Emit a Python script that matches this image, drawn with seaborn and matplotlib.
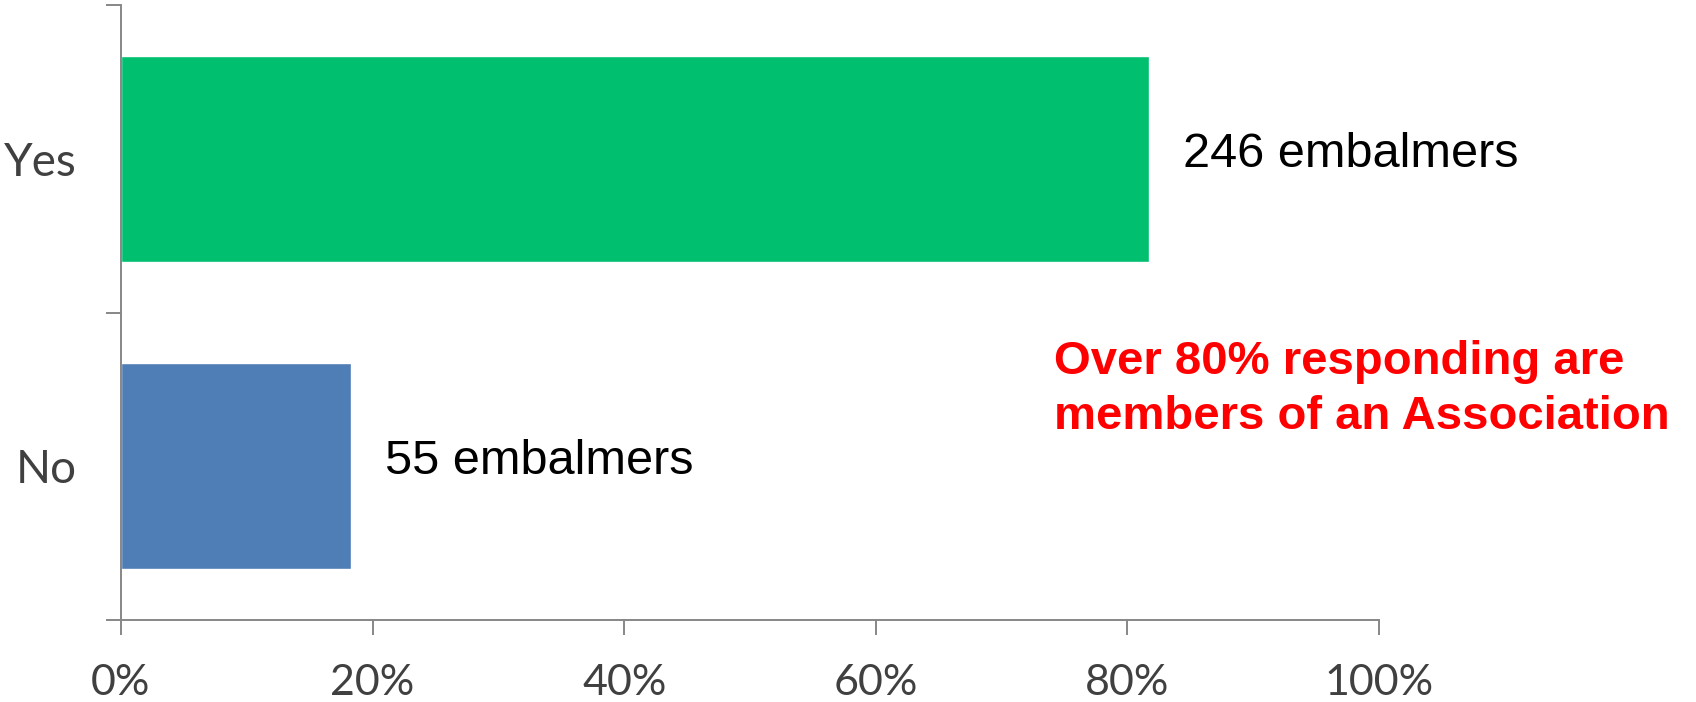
import matplotlib
matplotlib.use('Agg')
import matplotlib.pyplot as plt
from matplotlib.ticker import PercentFormatter, FixedLocator
import seaborn as sns
import pandas as pd

# data
answers = ['Yes', 'No']
embalmers = [246, 55]
bar_colors = ['#00BF6F', '#4F7DB5']
note = 'Over 80% responding are\nmembers of an Association'

total = sum(embalmers)
df = pd.DataFrame({'answer': answers,
                   'share': [n / total for n in embalmers]})

sns.set_style('white')
plt.rcParams['font.family'] = ['Liberation Sans', 'DejaVu Sans']

fig = plt.figure(figsize=(16.96, 7.02), dpi=100)
ax = fig.add_axes([0.0713, 0.1168, 0.7418, 0.8754])

sns.barplot(data=df, x='share', y='answer', hue='answer', palette=bar_colors,
            order=answers, width=0.67, legend=False, saturation=1, ax=ax)

ax.set_xlim(0, 1)
ax.set_ylim(1.5, -0.5)
ax.xaxis.set_major_formatter(PercentFormatter(1.0, decimals=0))
ax.set_xticks([0, 0.2, 0.4, 0.6, 0.8, 1.0])
ax.set_xlabel('')
ax.set_ylabel('')

# y ticks at band edges, labels centered on bars
ax.yaxis.set_minor_locator(FixedLocator([-0.5, 0.5, 1.5]))
ax.tick_params(axis='y', which='major', length=0, pad=32)
ax.tick_params(axis='y', which='minor', length=11, width=1.4, color='#878787',
               direction='out', left=True)
ax.tick_params(axis='x', length=11, width=1.4, color='#878787',
               direction='out', bottom=True, pad=21)
for lab in ax.get_xticklabels():
    lab.set_family(['Lato', 'DejaVu Sans'])
    lab.set_fontsize(31)
    lab.set_color('#404040')
for lab in ax.get_yticklabels():
    lab.set_family(['Lato', 'DejaVu Sans'])
    lab.set_fontsize(33)
    lab.set_color('#404040')
    lab.set_verticalalignment('center_baseline')

for side in ['top', 'right']:
    ax.spines[side].set_visible(False)
for side in ['left', 'bottom']:
    ax.spines[side].set_color('#878787')
    ax.spines[side].set_linewidth(1.4)

for i, n in enumerate(embalmers):
    ax.text(n / total + 0.027, i - 0.015, f'{n} embalmers', va='center',
            ha='left', fontsize=35, color='black')

ax.text(0.742, 0.375, note, transform=ax.transAxes, va='center', ha='left',
        fontsize=34, fontweight='bold', color='#FF0000', linespacing=1.3,
        clip_on=False)

fig.savefig('out.png', dpi=100)
